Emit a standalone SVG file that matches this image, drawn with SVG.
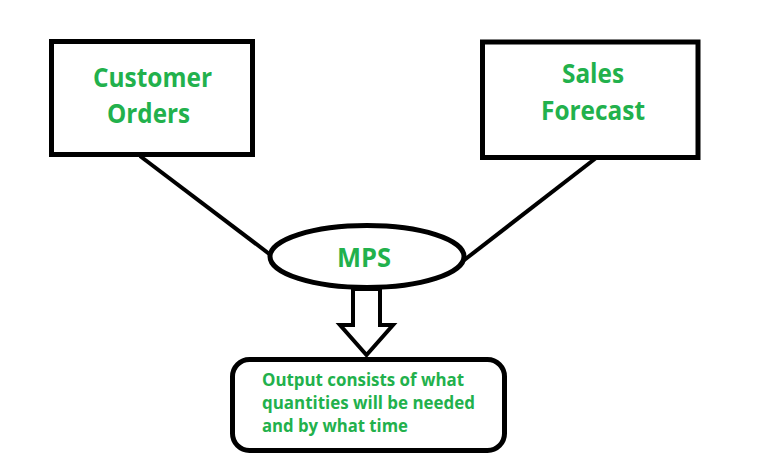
<svg xmlns="http://www.w3.org/2000/svg" width="762" height="473" viewBox="0 0 762 473">
<style>
.box{fill:#fff;stroke:#000;stroke-width:5}
.t{font-family:"Open Sans","Liberation Sans",sans-serif;font-weight:bold;fill:#22b14c}
.big{font-size:26px}
.small{font-size:17px}
.conn{stroke:#000;stroke-width:4;fill:none}
</style>
<rect width="762" height="473" fill="#fff"/>
<g id="connectors">
<line class="conn" x1="140" y1="156" x2="272" y2="256"/>
<line class="conn" x1="596" y1="158" x2="463" y2="261"/>
<polygon class="conn" stroke-width="5" stroke-linejoin="miter" fill="#fff" points="353,289 380,289 380,325 393,325 366.5,355 340,325 353,325"/>
</g>
<g id="customer-orders">
<rect class="box" x="51.5" y="41.5" width="201" height="113"/>
<text class="t big" x="93" y="87" textLength="119" lengthAdjust="spacingAndGlyphs">Customer</text>
<text class="t big" x="107" y="123" textLength="83" lengthAdjust="spacingAndGlyphs">Orders</text>
</g>
<g id="sales-forecast">
<rect class="box" x="482.5" y="42" width="215.5" height="115.5"/>
<text class="t big" x="562" y="83" textLength="62" lengthAdjust="spacingAndGlyphs">Sales</text>
<text class="t big" x="541" y="120" textLength="104" lengthAdjust="spacingAndGlyphs">Forecast</text>
</g>
<g id="mps">
<ellipse class="box" cx="367" cy="256.5" rx="97" ry="31"/>
<text class="t big" x="337" y="267" textLength="54" lengthAdjust="spacingAndGlyphs">MPS</text>
</g>
<g id="output">
<rect class="box" x="232.5" y="359.5" width="272" height="91" rx="17"/>
<text class="t small" x="262" y="386" textLength="202" lengthAdjust="spacingAndGlyphs">Output consists of what</text>
<text class="t small" x="262" y="409" textLength="213" lengthAdjust="spacingAndGlyphs">quantities will be needed</text>
<text class="t small" x="262" y="432" textLength="146" lengthAdjust="spacingAndGlyphs">and by what time</text>
</g>
</svg>
